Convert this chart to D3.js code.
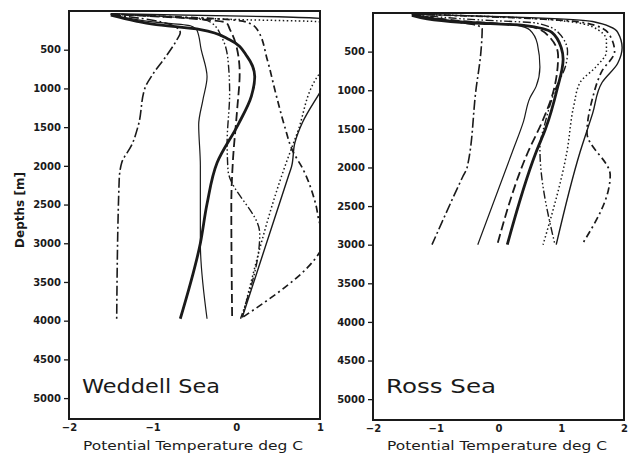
<!DOCTYPE html>
<html lang="en">
	<head>
		<meta charset="utf-8">
		<title>Potential temperature profiles</title>
		<script type="text/javascript" src="https://cdnjs.cloudflare.com/ajax/libs/d3/7.8.5/d3.min.js"></script>
		<style type="text/css">
			body { margin: 0; background: #fff; }
			text { font-family: "DejaVu Sans", sans-serif; fill: #1a1a1a; }
			.axis text { font-size: 10px; font-weight: bold; }
			.axis path { display: none; }
			.axis line { stroke: #1a1a1a; stroke-width: 1.3; }
		</style>
	</head>
	<body>
		<script type="text/javascript">

			//Width and height
			var w = 628;
			var h = 454;
			var maxDepth = 5270;

			//Tick labels
			var depthTicks = [500, 1000, 1500, 2000, 2500, 3000, 3500, 4000, 4500, 5000];
			var weddellTempTicks = [-2, -1, 0, 1];
			var rossTempTicks = [-2, -1, 0, 1, 2];

			//Profiles as [temperature, depth]
			//Weddell Sea
			var weddellDashDot   = [[-1.5,45],[-1.0,120],[-0.72,210],[-0.67,280],[-0.71,370],[-0.83,570],[-1.0,820],[-1.09,990],[-1.17,1470],[-1.25,1730],[-1.37,1960],[-1.40,2180],[-1.43,3975]];
			var weddellThin      = [[-1.5,50],[-1.0,140],[-0.55,190],[-0.47,250],[-0.42,500],[-0.35,850],[-0.40,1150],[-0.45,1470],[-0.43,2000],[-0.43,3000],[-0.35,3975]];
			var weddellDash      = [[-1.5,40],[-0.5,100],[-0.12,150],[-0.08,230],[0.0,450],[0.04,800],[0.01,1270],[-0.04,1920],[-0.06,2500],[-0.05,3975]];
			var weddellThick     = [[-1.5,55],[-1.2,130],[-1.0,170],[-0.43,240],[-0.08,370],[0.13,590],[0.22,850],[0.18,1100],[0.02,1470],[-0.23,1960],[-0.35,2490],[-0.43,3000],[-0.67,3975]];
			var weddellDotted    = [[-1.5,35],[0.0,110],[1.0,140],[1.3,300],[1.15,650],[1.0,800],[0.73,1570],[0.58,2010],[0.07,3960]];
			var weddellDashDotDot= [[-1.5,40],[-0.4,110],[-0.3,150],[-0.17,350],[-0.10,630],[-0.08,1060],[-0.11,1700],[-0.10,2050],[0.28,2880],[0.05,3975]];
			var weddellMedium    = [[-1.5,35],[0.5,75],[1.05,100],[1.3,500],[1.0,1050],[0.79,1440],[0.70,1700],[0.66,2010],[0.62,2140],[0.07,3960]];
			var weddellDashDot2  = [[-1.5,40],[0.0,120],[0.14,150],[0.25,240],[0.37,630],[0.47,1060],[0.58,1500],[0.67,1800],[0.80,2050],[0.95,2500],[1.0,2750],[1.08,2930],[1.0,3110],[0.05,3975]];

			//Ross Sea
			var rossDashDot   = [[-1.38,20],[-0.9,90],[-0.4,150],[-0.26,200],[-0.28,500],[-0.36,1000],[-0.50,2000],[-0.57,2120],[-1.06,3000]];
			var rossThin      = [[-1.38,20],[-0.7,100],[0.3,160],[0.5,220],[0.62,400],[0.66,700],[0.60,950],[0.50,1100],[0.40,1400],[0.22,1800],[-0.33,3000]];
			var rossDash      = [[-1.38,20],[-0.5,110],[0.5,170],[0.8,300],[0.95,550],[0.88,1000],[0.70,1400],[0.47,1800],[-0.02,3000]];
			var rossThick     = [[-1.38,30],[-0.6,120],[0.4,160],[0.85,250],[1.0,450],[1.03,600],[0.93,1000],[0.75,1500],[0.60,1800],[0.14,3000]];
			var rossDotted    = [[-1.38,15],[0.0,50],[1.0,100],[1.5,180],[1.72,350],[1.72,500],[1.55,700],[1.30,900],[1.20,1200],[1.09,1800],[0.71,3000]];
			var rossDashDotDot= [[-1.38,20],[-0.3,90],[0.6,130],[0.95,250],[1.10,500],[1.08,650],[0.90,1000],[0.75,1400],[0.66,1750],[0.90,3000]];
			var rossMedium    = [[-1.38,15],[0.5,60],[1.5,110],[1.90,250],[1.97,450],[1.90,650],[1.65,900],[1.50,1300],[1.30,1800],[0.92,3000]];
			var rossDashDot2  = [[-1.38,15],[0.5,70],[1.4,130],[1.75,260],[1.85,500],[1.65,750],[1.50,1100],[1.41,1550],[1.78,2100],[1.33,3000]];

			//Line styles, keyed by position in each list
			var styles = [
				{ width: 1.6, dash: "10,3,2,3" },
				{ width: 1.2, dash: null },
				{ width: 1.8, dash: "9,4" },
				{ width: 2.8, dash: null },
				{ width: 1.5, dash: "1.5,2.5" },
				{ width: 1.4, dash: "8,2.5,1.5,2.5,1.5,2.5" },
				{ width: 1.4, dash: null },
				{ width: 1.7, dash: "7,3.5,2,3.5" }
			];

			var panels = [
				{ name: "Weddell Sea", id: "wed", lines: [weddellDashDot, weddellThin, weddellDash, weddellThick, weddellDotted, weddellDashDotDot, weddellMedium, weddellDashDot2],
				  tempDomain: [-2, 1], tempTicks: weddellTempTicks, left: 69, right: 320, top: 11, bottom: 419 },
				{ name: "Ross Sea", id: "ross", lines: [rossDashDot, rossThin, rossDash, rossThick, rossDotted, rossDashDotDot, rossMedium, rossDashDot2],
				  tempDomain: [-2, 2], tempTicks: rossTempTicks, left: 373, right: 624, top: 13, bottom: 420 }
			];

			//Create SVG element
			var svg = d3.select("body")
						.append("svg")
						.attr("width", w)
						.attr("height", h);

			svg.append("rect")
				.attr("width", w)
				.attr("height", h)
				.attr("fill", "#fff");

			panels.forEach(p => {

				//Create scale functions
				var xScale = d3.scaleLinear()
								.domain(p.tempDomain)
								.range([p.left, p.right]);

				var yScale = d3.scaleLinear()
								.domain([0, maxDepth])
								.range([p.top, p.bottom]);

				var line = d3.line()
							.x(d => xScale(d[0]))
							.y(d => yScale(d[1]))
							.curve(d3.curveMonotoneY);

				//Clip to the frame
				svg.append("clipPath")
					.attr("id", "clip-" + p.id)
					.append("rect")
					.attr("x", p.left)
					.attr("y", p.top)
					.attr("width", p.right - p.left)
					.attr("height", p.bottom - p.top);

				var g = svg.append("g")
							.attr("clip-path", `url(#clip-${p.id})`);

				g.selectAll("path")
					.data(p.lines)
					.enter()
					.append("path")
					.attr("d", line)
					.attr("fill", "none")
					.attr("stroke", "#1a1a1a")
					.attr("stroke-width", (d, i) => styles[i].width)
					.attr("stroke-dasharray", (d, i) => styles[i].dash)
					.attr("stroke-linejoin", "round");

				//Frame
				svg.append("rect")
					.attr("x", p.left)
					.attr("y", p.top)
					.attr("width", p.right - p.left)
					.attr("height", p.bottom - p.top)
					.attr("fill", "none")
					.attr("stroke", "#1a1a1a")
					.attr("stroke-width", 2);

				//Y axis
				svg.append("g")
					.attr("class", "axis")
					.attr("transform", `translate(${p.left},0)`)
					.call(d3.axisLeft(yScale)
							.tickValues(depthTicks)
							.tickSize(5)
							.tickPadding(3)
							.tickFormat(d3.format("d")));

				//X axis
				svg.append("g")
					.attr("class", "axis")
					.attr("transform", `translate(0,${p.bottom})`)
					.call(d3.axisBottom(xScale)
							.tickValues(p.tempTicks)
							.tickSize(0)
							.tickPadding(5)
							.tickFormat(d3.format("d")));

				//X axis title
				svg.append("text")
					.attr("x", p.left + 14)
					.attr("y", 450)
					.attr("textLength", 220)
					.attr("lengthAdjust", "spacingAndGlyphs")
					.style("font-size", "13px")
					.text("Potential Temperature deg C");

				//Panel name
				svg.append("text")
					.attr("x", p.left + 13)
					.attr("y", 393)
					.attr("textLength", p.id === "wed" ? 138 : 110)
					.attr("lengthAdjust", "spacingAndGlyphs")
					.style("font-size", "20px")
					.text(p.name);
			});

			//Y axis title
			svg.append("text")
				.attr("transform", "translate(24,210) rotate(-90)")
				.attr("text-anchor", "middle")
				.style("font-size", "12px")
				.style("font-weight", "bold")
				.text("Depths  [m]");

		</script>
	</body>
</html>
